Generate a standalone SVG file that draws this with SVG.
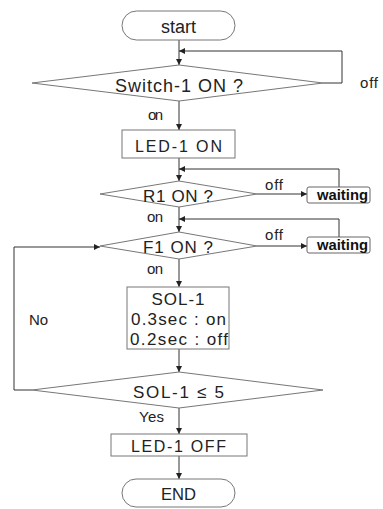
<svg xmlns="http://www.w3.org/2000/svg" width="383" height="509" viewBox="0 0 383 509">
<style>
.shape{fill:#fff;stroke:#777;stroke-width:1}
.wait{fill:#fff;stroke:#666;stroke-width:1}
.conn{fill:none;stroke:#333;stroke-width:1}
text{font-family:"Liberation Sans",Arial,sans-serif;fill:#222;text-anchor:middle}
.t18{font-size:18px}
.t17{font-size:17px}
.t16{font-size:16px}
.lbl{font-size:15px}
.w{font-size:14px;font-weight:bold;fill:#111}
</style>
<defs>
<marker id="ah" viewBox="0 0 10 10" refX="10" refY="5" markerWidth="6" markerHeight="6" orient="auto" markerUnits="userSpaceOnUse">
<path d="M0,0 L10,5 L0,10 z" fill="#222"/>
</marker>
</defs>
<rect width="383" height="509" fill="#fff"/>
<g id="connectors" marker-end="url(#ah)">
<path class="conn" d="M179,40 V65"/>
<path class="conn" d="M323,83 H342 V51 H179"/>
<path class="conn" d="M179,101 V130"/>
<path class="conn" d="M179,158 V181"/>
<path class="conn" d="M257,194 H307"/>
<path class="conn" d="M339,187 V169 H179"/>
<path class="conn" d="M179,207 V232"/>
<path class="conn" d="M257,246 H307"/>
<path class="conn" d="M339,237 V219 H179"/>
<path class="conn" d="M179,259 V287"/>
<path class="conn" d="M179,349 V372"/>
<path class="conn" d="M32,390 H14 V247 H100"/>
<path class="conn" d="M179,408 V434"/>
<path class="conn" d="M179,456 V479"/>
</g>
<g id="start">
<rect class="shape" x="122" y="11" width="113" height="29" rx="14.5"/>
<text class="t18" x="178.5" y="33" textLength="35" lengthAdjust="spacingAndGlyphs">start</text>
</g>
<g id="switch1">
<polygon class="shape" points="179,65 323,83 179,101 32,83"/>
<text class="t18" x="179" y="92" textLength="128" lengthAdjust="spacing">Switch-1 ON ?</text>
</g>
<g id="led1on">
<rect class="shape" x="122" y="130" width="113" height="28"/>
<text class="t16" x="178.5" y="152" textLength="87" lengthAdjust="spacing">LED-1 ON</text>
</g>
<g id="r1">
<polygon class="shape" points="179,181 257,194 179,207 100,194"/>
<text class="t17" x="178" y="202" textLength="70" lengthAdjust="spacing">R1 ON ?</text>
</g>
<g id="waiting1">
<rect class="wait" x="307" y="187" width="63" height="16" rx="2"/>
<text class="w" x="342.5" y="200" textLength="51" lengthAdjust="spacingAndGlyphs">waiting</text>
</g>
<g id="f1">
<polygon class="shape" points="179,232 257,246 179,259 100,246"/>
<text class="t17" x="178" y="253" textLength="70" lengthAdjust="spacing">F1 ON ?</text>
</g>
<g id="waiting2">
<rect class="wait" x="307" y="237" width="63" height="16" rx="2"/>
<text class="w" x="342.5" y="250" textLength="51" lengthAdjust="spacingAndGlyphs">waiting</text>
</g>
<g id="sol1">
<rect class="shape" x="127" y="287" width="102" height="62"/>
<text class="t17" x="178" y="305" textLength="53" lengthAdjust="spacing">SOL-1</text>
<text class="t17" x="178.5" y="325" textLength="95" lengthAdjust="spacing">0.3sec : on</text>
<text class="t17" x="179" y="345" textLength="98" lengthAdjust="spacing">0.2sec : off</text>
</g>
<g id="solcount">
<polygon class="shape" points="179,372 323,390 179,408 32,390"/>
<text class="t17" x="178.5" y="398" textLength="91" lengthAdjust="spacing">SOL-1 ≤ 5</text>
</g>
<g id="led1off">
<rect class="shape" x="111" y="434" width="136" height="22"/>
<text class="t16" x="178.5" y="452" textLength="95" lengthAdjust="spacing">LED-1 OFF</text>
</g>
<g id="end">
<rect class="shape" x="122" y="479" width="113" height="28" rx="14"/>
<text class="t16" x="178.5" y="500" textLength="35" lengthAdjust="spacingAndGlyphs">END</text>
</g>
<g id="labels">
<text class="lbl" x="369" y="88" textLength="18" lengthAdjust="spacing">off</text>
<text class="lbl" x="155.5" y="120" textLength="15" lengthAdjust="spacing">on</text>
<text class="lbl" x="274" y="190" textLength="18" lengthAdjust="spacing">off</text>
<text class="lbl" x="155" y="222" textLength="16" lengthAdjust="spacing">on</text>
<text class="lbl" x="274" y="240" textLength="18" lengthAdjust="spacing">off</text>
<text class="lbl" x="155" y="274" textLength="16" lengthAdjust="spacing">on</text>
<text class="lbl" x="38.5" y="325" textLength="19" lengthAdjust="spacing">No</text>
<text class="lbl" x="151.5" y="422" textLength="25" lengthAdjust="spacing">Yes</text>
</g>
</svg>
